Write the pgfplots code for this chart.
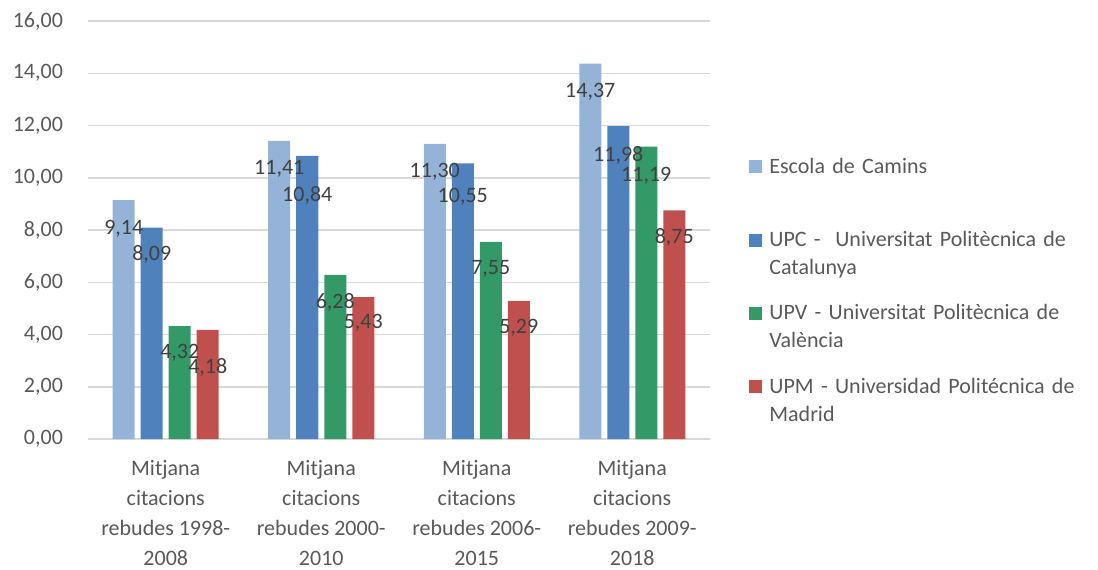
\documentclass[border=0pt]{standalone}
\usepackage{fontspec}
\setmainfont{Carlito}
\usepackage{pgfplots}
\usepackage{pgfplotstable}
\pgfplotsset{compat=1.18}

\definecolor{cEsc}{HTML}{95B3D7}
\definecolor{cUPC}{HTML}{4F81BD}
\definecolor{cUPV}{HTML}{339966}
\definecolor{cUPM}{HTML}{C0504D}
\definecolor{gridgray}{HTML}{D9D9D9}
\definecolor{txtgray}{HTML}{595959}
\definecolor{lblgray}{HTML}{404040}

% x = period, y = mean citations, dy = label offset below bar top (pt)
\pgfplotstableread{
x y dy
0 9.14 14.5
1 11.41 14
2 11.30 14
3 14.37 14
}\tEsc
\pgfplotstableread{
x y dy
0 8.09 13.5
1 10.84 20
2 10.55 16.5
3 11.98 14.5
}\tUPC
\pgfplotstableread{
x y dy
0 4.32 13.5
1 6.28 13.5
2 7.55 13.5
3 11.19 14.5
}\tUPV
\pgfplotstableread{
x y dy
0 4.18 19
1 5.43 13
2 5.29 13.5
3 8.75 13.5
}\tUPM

\begin{document}
\begin{tikzpicture}
\useasboundingbox (-44pt,-65pt) rectangle (505pt,219.5pt);
\begin{axis}[
  at={(0,0)}, anchor=south west,
  scale only axis, width=311pt, height=209pt,
  ybar=3pt, bar width=11pt,
  xmin=-0.5, xmax=3.5, ymin=0, ymax=16,
  xtick={0,1,2,3},
  xticklabels={
    {Mitjana\\citacions\\rebudes 1998-\\2008},
    {Mitjana\\citacions\\rebudes 2000-\\2010},
    {Mitjana\\citacions\\rebudes 2006-\\2015},
    {Mitjana\\citacions\\rebudes 2009-\\2018}},
  ytick={0,2,...,16},
  axis lines*=left,
  y axis line style={draw=none},
  x axis line style={draw=gridgray, line width=0.75pt, -},
  major tick length=0pt,
  ymajorgrids,
  grid style={draw=gridgray, line width=0.75pt},
  /pgf/number format/.cd, fixed, fixed zerofill, precision=2, use comma,
    assume math mode=true,
  /pgfplots/.cd,
  yticklabel style={font=\fontsize{11}{13}\selectfont, text=txtgray, xshift=-9pt},
  xticklabel style={font=\fontsize{11}{15}\selectfont, text=txtgray, align=center,
    inner sep=0pt, yshift=-10.7pt},
  nodes near coords,
  visualization depends on={\thisrow{dy} \as \dy},
  every node near coord/.append style={anchor=center, yshift=-\dy pt,
    font=\fontsize{11}{13}\selectfont, text=lblgray},
  legend style={at={(1.0627,0.673)}, anchor=north west, draw=none, fill=none,
    inner sep=0pt, row sep=27.5pt, column sep=3.5pt,
    nodes={text width=170pt, align=left, inner sep=0pt, anchor=base west,
      font=\fontsize{11}{14}\selectfont, text=txtgray}},
  leg/.style={legend image code/.code={\fill[##1] (0pt,0pt) rectangle (6.5pt,6.5pt);}},
]
\addplot[fill=cEsc, draw=none, leg] table[x=x, y=y] {\tEsc};
\addplot[fill=cUPC, draw=none, leg] table[x=x, y=y] {\tUPC};
\addplot[fill=cUPV, draw=none, leg] table[x=x, y=y] {\tUPV};
\addplot[fill=cUPM, draw=none, leg] table[x=x, y=y] {\tUPM};
\legend{
  {Escola de Camins},
  {UPC -\ \ Universitat Politècnica de\\Catalunya},
  {UPV - Universitat Politècnica de\\València},
  {UPM - Universidad Politécnica de\\Madrid}}
\end{axis}
\end{tikzpicture}
\end{document}
